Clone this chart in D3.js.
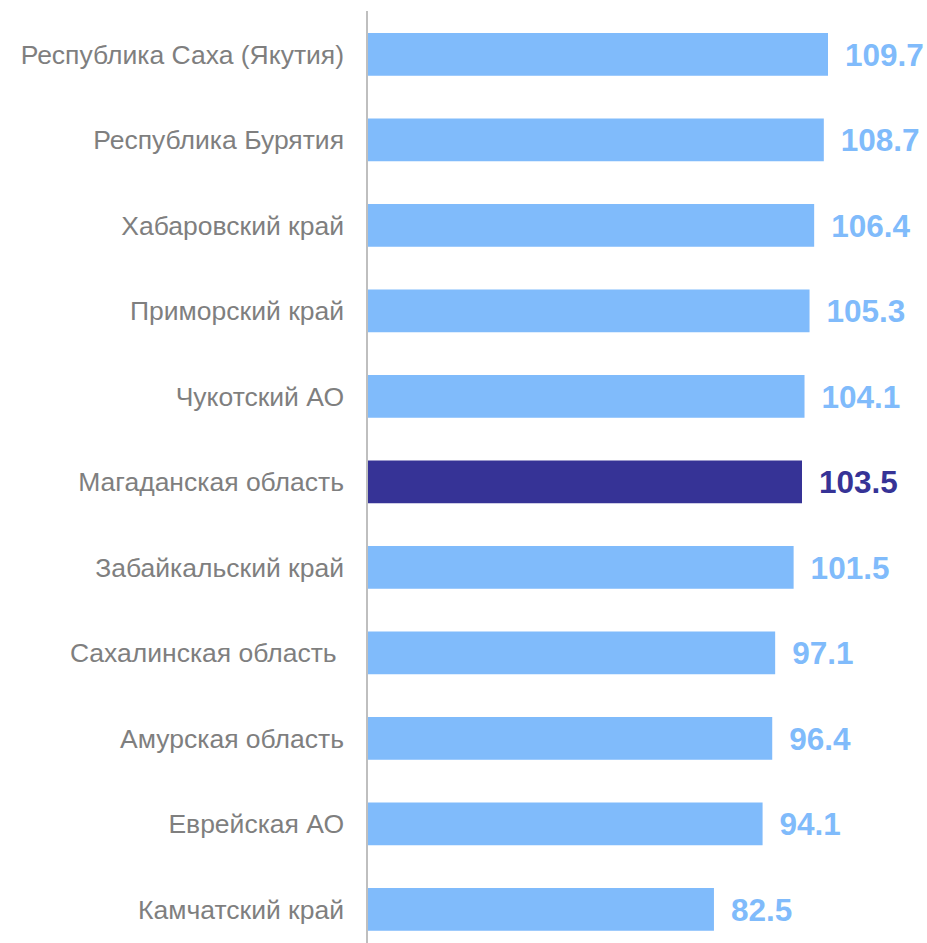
<!DOCTYPE html>
<html><head><meta charset="utf-8">
<script src="https://cdn.jsdelivr.net/npm/d3@7"></script>
<style>body{margin:0;background:#fff}</style>
</head><body>
<svg id="c" width="927" height="943"></svg>
<script>
const categories = ["Республика Саха (Якутия)","Республика Бурятия","Хабаровский край","Приморский край","Чукотский АО","Магаданская область","Забайкальский край","Сахалинская область ","Амурская область","Еврейская АО","Камчатский край"];
const values = [109.7,108.7,106.4,105.3,104.1,103.5,101.5,97.1,96.4,94.1,82.5];
const highlight = ["Магаданская область"];

const svg = d3.select("#c");
const x0 = 368;
const x = d3.scaleLinear().domain([0, 109.7]).range([x0, 828]);
const y = d3.scaleBand().domain(categories).range([33, 930.75]).paddingInner(0.5).paddingOuter(0);
const light = "#80BBFB", dark = "#363396";

svg.selectAll("rect.bar").data(values).join("rect")
  .attr("x", x0)
  .attr("y", (d,i)=>y(categories[i]))
  .attr("width", d=>x(d)-x0)
  .attr("height", y.bandwidth())
  .attr("fill", (d,i)=>highlight.includes(categories[i])?dark:light);

svg.selectAll("text.val").data(values).join("text")
  .attr("x", d=>x(d)+17)
  .attr("y", (d,i)=>y(categories[i])+y.bandwidth()/2)
  .attr("dy","0.36em")
  .attr("font-family","'Liberation Sans', Arial, sans-serif")
  .attr("font-weight","bold")
  .attr("font-size",31.5)
  .attr("fill",(d,i)=>highlight.includes(categories[i])?dark:light)
  .text(d=>d.toFixed(1));

svg.selectAll("text.cat").data(categories).join("text")
  .attr("x", x0-24)
  .attr("y", d=>y(d)+y.bandwidth()/2)
  .attr("dy","0.36em")
  .attr("text-anchor","end")
  .attr("font-family","'Liberation Sans', Arial, sans-serif")
  .attr("font-size",26.5)
  .attr("fill","#7F7F7F")
  .style("white-space","pre")
  .text(d=>d);

svg.append("line").attr("x1",x0-1).attr("x2",x0-1).attr("y1",11).attr("y2",943)
  .attr("stroke","#BFBFBF").attr("stroke-width",2);
</script>
</body></html>
